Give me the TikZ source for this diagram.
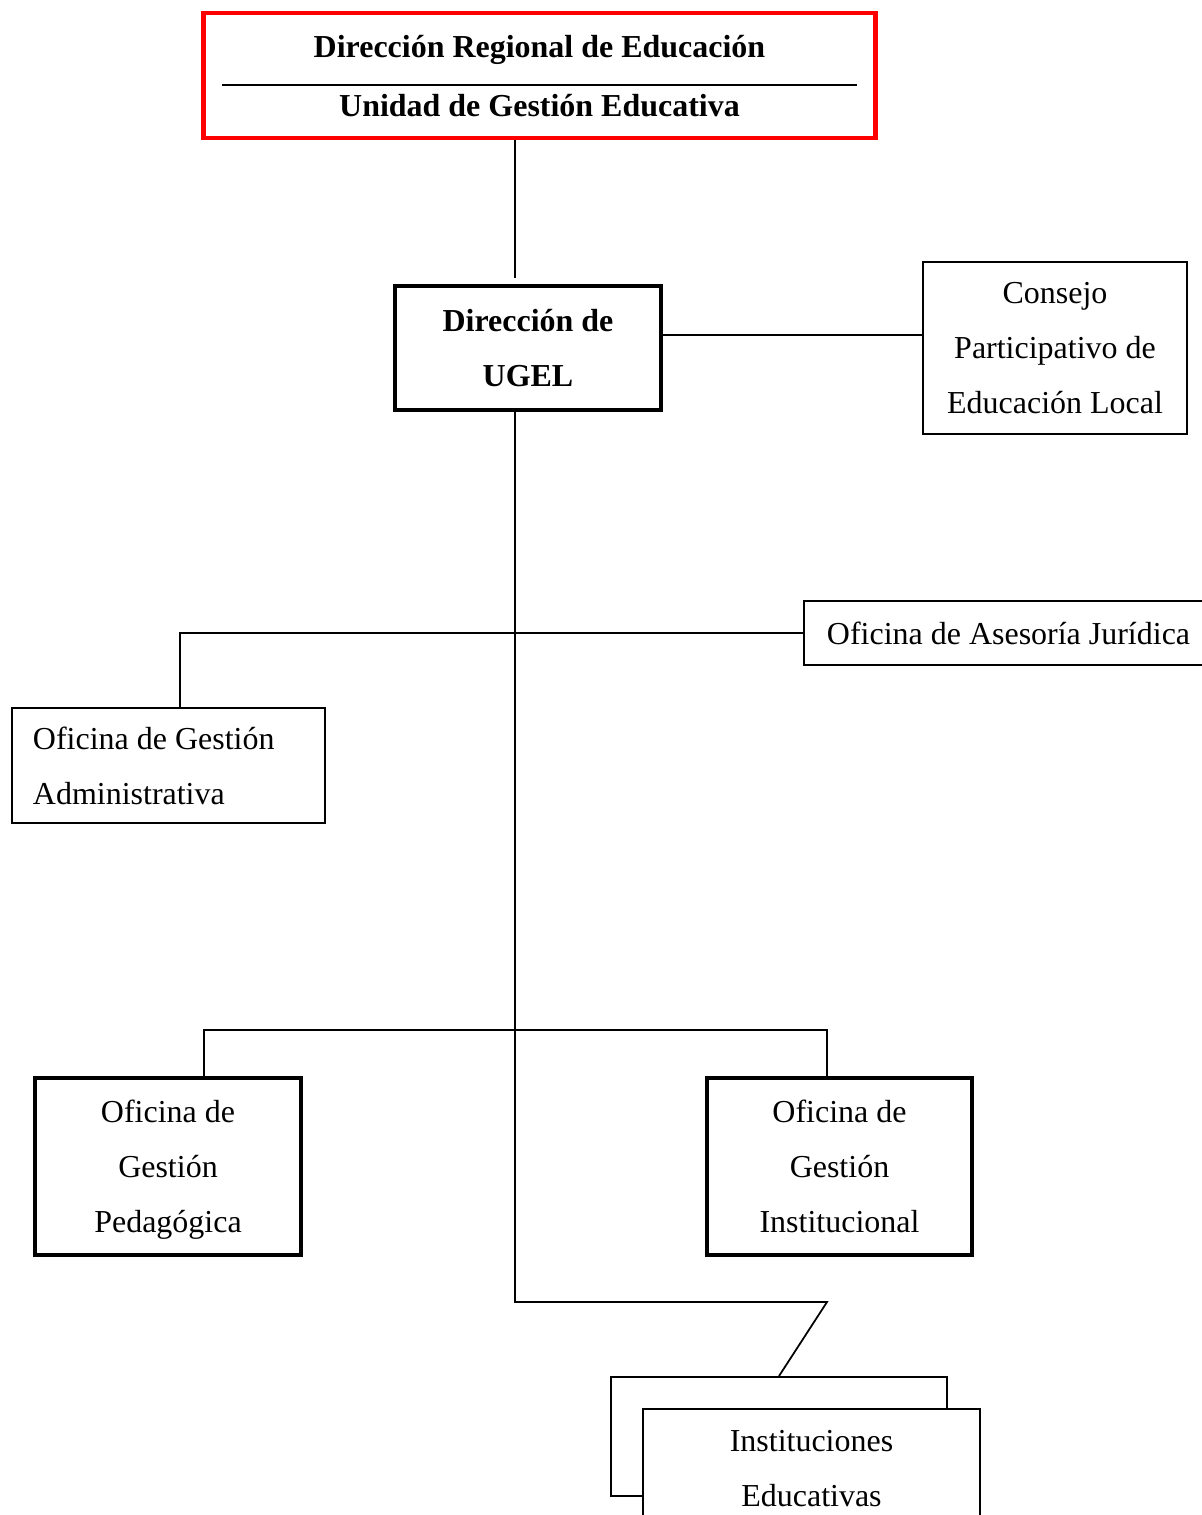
\documentclass[tikz,border=0pt]{standalone}
\usepackage{fontspec}
\setmainfont{Liberation Serif}
\usepackage{tikz}

\begin{document}
\begin{tikzpicture}[x=0.02cm, y=-0.02cm,
    every node/.style={font=\fontsize{18.2pt}{31.3pt}\selectfont},
    thinnode/.style={rectangle, draw=black, line width=1.1pt, fill=white, align=center},
    thicknode/.style={rectangle, draw=black, line width=2.4pt, fill=white, align=center, font=\fontsize{18.2pt}{31.3pt}\selectfont},
    rednode/.style={rectangle, draw=red, line width=2.8pt, minimum width=13.46cm, minimum height=2.5cm},
    conn/.style={draw=black, line width=1pt},
]
\clip (0,0) rectangle (1202,1515);
\fill[white] (0,0) rectangle (1202,1515);

% top
\node[rednode](dre) at (539.5,75.5){};
\node(dreA) at (539.5,50){\bfseries Dirección Regional de Educación};
\node(dreB) at (539.5,106){\bfseries Unidad de Gestión Educativa};
\draw[line width=0.8pt] (222,85) -- (857,85);

% direccion
\node[thicknode, minimum width=5.32cm, minimum height=2.48cm](ugel) at (528,348){\bfseries Dirección de\\\bfseries UGEL};
\node[thinnode, minimum width=5.28cm, minimum height=3.44cm](cpel) at (1055,348){Consejo\\Participativo de\\Educación Local};

% oficinas
\node[thinnode, anchor=west, minimum height=1.28cm, inner xsep=0.46cm, text width=7.6cm, align=flush left](oaj) at (803,633){Oficina de Asesoría Jurídica};
\node[thinnode, anchor=north west, minimum height=2.3cm, inner xsep=0.42cm, text width=5.42cm, align=flush left](oga) at (11,707){Oficina de Gestión\\Administrativa};
\node[thicknode, minimum width=5.32cm, minimum height=3.54cm](ogp) at (168,1166.5){Oficina de\\Gestión\\\smash{Pedagógica}};
\node[thicknode, minimum width=5.3cm, minimum height=3.54cm](ogi) at (839.5,1166.5){Oficina de\\Gestión\\Institucional};

% instituciones
\node[thinnode, minimum width=6.72cm, minimum height=2.38cm](ie1) at (779,1436.5){};
\node[thinnode, minimum width=6.74cm, minimum height=2.38cm](ie2) at (811.5,1468.5){Instituciones\\Educativas};

% lineas
\coordinate (trunk) at (515,1302);
\coordinate (bend) at (827,1302);
\coordinate (jL) at (180,633);
\coordinate (jP) at (204,1030);
\coordinate (jI) at (827,1030);
\draw[conn] (dre.south -| trunk) -- ([yshift=0.12cm]ugel.north -| trunk);
\draw[conn] ([yshift=0.26cm]ugel.east) -- ([yshift=0.26cm]ugel.east -| cpel.west);
\draw[conn] (ugel.south -| trunk) -- (trunk) -- (bend) -- (ie1.north);
\draw[conn] (oaj.west) -- (jL) -- (jL |- oga.north);
\draw[conn] (ogp.north -| jP) -- (jP) -- (jI) -- (ogi.north -| jI);
\end{tikzpicture}
\end{document}
